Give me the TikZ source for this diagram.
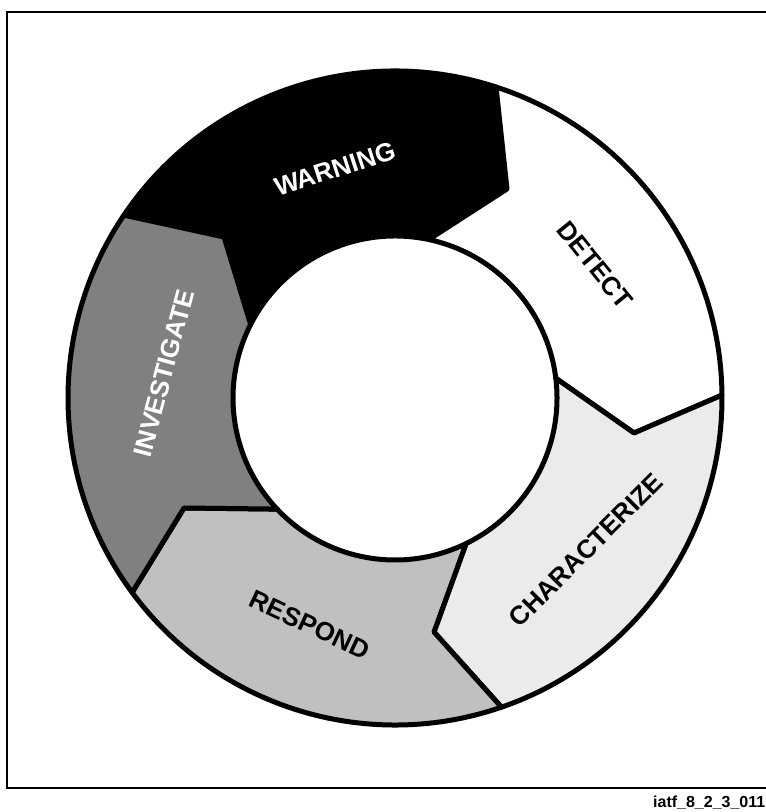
\documentclass[tikz,border=0pt]{standalone}
\usepackage{fontspec}
\setmainfont{Liberation Sans}
\usepackage{tikz}
\definecolor{warnfill}{HTML}{000000}
\definecolor{detectfill}{HTML}{FFFFFF}
\definecolor{charfill}{HTML}{EBEBEB}
\definecolor{respfill}{HTML}{C0C0C0}
\definecolor{invfill}{HTML}{808080}
\tikzset{
  segment/.style={draw=black,line width=5pt,line join=round},
  phase/.style={font=\fontsize{26}{26}\selectfont\bfseries,inner sep=0pt}
}

\begin{document}
\begin{tikzpicture}[x=1pt,y=1pt]
  \useasboundingbox (0,0) rectangle (766,812);
  \draw[line width=2pt] (7,800) rectangle (780,24);
  \begin{scope}[shift={(395,414)}]
    % ring pieces, outer R=327, inner r=162
    \coordinate (m1) at (112,209);
    \coordinate (m2) at (239,-35);
    \coordinate (m3) at (39,-234);
    \coordinate (m4) at (-211,-110);
    \coordinate (m5) at (-171,161);
    \filldraw[segment,fill=warnfill] (146:327) arc[start angle=146,end angle=72,radius=327]
      -- (m1) -- (78:162) arc[start angle=78,end angle=153,radius=162] -- (m5) -- cycle;
    \filldraw[segment,fill=detectfill] (72:327) arc[start angle=72,end angle=0.5,radius=327]
      -- (m2) -- (7:162) arc[start angle=7,end angle=78,radius=162] -- (m1) -- cycle;
    \filldraw[segment,fill=charfill] (0.5:327) arc[start angle=0.5,end angle=-71,radius=327]
      -- (m3) -- (-64:162) arc[start angle=-64,end angle=7,radius=162] -- (m2) -- cycle;
    \filldraw[segment,fill=respfill] (-71:327) arc[start angle=-71,end angle=-143.5,radius=327]
      -- (m4) -- (-136.7:162) arc[start angle=-136.7,end angle=-64,radius=162] -- (m3) -- cycle;
    \filldraw[segment,fill=invfill] (216.5:327) arc[start angle=216.5,end angle=146,radius=327]
      -- (m5) -- (153:162) arc[start angle=153,end angle=223.3,radius=162] -- (m4) -- cycle;
    \node[phase,text=white,rotate=18] (warning) at (-60,229) {WARNING};
    \node[phase,rotate=-51] (detect) at (200,133) {DETECT};
    \node[phase,rotate=45] (characterize) at (191,-152) {CHARACTERIZE};
    \node[phase,rotate=-25] (respond) at (-85,-227) {RESPOND};
    \node[phase,text=white,rotate=75] (investigate) at (-231,25) {INVESTIGATE};
  \end{scope}
  \node[anchor=base west,inner sep=0pt,font=\fontsize{16}{16}\selectfont\bfseries] (figid) at (653,5) {iatf\_8\_2\_3\_0115};
\end{tikzpicture}
\end{document}
